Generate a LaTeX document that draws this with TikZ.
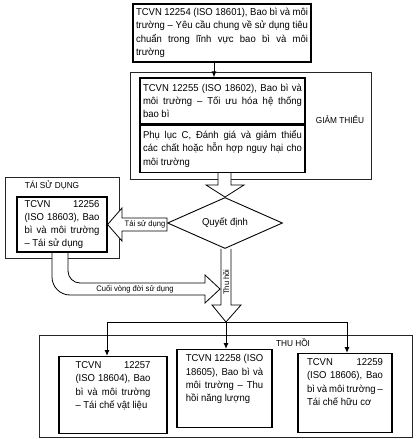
\documentclass[tikz,border=0pt]{standalone}
\usepackage{fontspec}
\setmainfont{Liberation Sans}[FakeStretch=0.95]
\usetikzlibrary{shapes.geometric,arrows.meta}
\hyphenpenalty=10000
\exhyphenpenalty=10000
\tolerance=10000
\hbadness=10000
\pgfdeclarelayer{back}
\pgfdeclarelayer{mid}
\pgfsetlayers{back,mid,main}
\tikzset{
  stdbox/.style={draw,line width=1.2pt,fill=white,align=justify,inner xsep=3pt,inner ysep=3pt,font=\fontsize{10}{13.3}\selectfont},
  group/.style={draw=black!85,line width=0.7pt,inner sep=0pt},
  grouplabel/.style={font=\fontsize{8.7}{10}\selectfont},
  hollow/.style={draw,line width=0.8pt,fill=white,line join=miter},
  arrowlabel/.style={font=\fontsize{8}{9}\selectfont,inner sep=1pt},
  >={Latex[length=6pt,width=5pt]}
}
\begin{document}
\begin{tikzpicture}[x=1pt,y=-1pt]
\useasboundingbox (0,0) rectangle (415,439);
\begin{pgfonlayer}{back}
\node[group,minimum width=241,minimum height=107] at (250.5,125.5) (gtgroup) {};
\node[group,minimum width=114,minimum height=81] at (62,217.5) (tsdgroup) {};
\node[group,minimum width=373,minimum height=102] at (225.5,386) (thgroup) {};
\end{pgfonlayer}
\node[grouplabel] at (340,120) (gtlabel) {GIẢM THIỂU};
\node[grouplabel] at (52,185) (tsdlabel) {TÁI SỬ DỤNG};
\node[grouplabel] at (293,343) (thlabel) {THU HỒI};
\node[stdbox,text width=172,minimum height=58] at (222,33) (top) {TCVN 12254 (ISO 18601), Bao bì và môi\linebreak trường – Yêu cầu chung về sử dụng tiêu\linebreak chuẩn trong lĩnh vực bao bì và môi\linebreak trường};
\node[stdbox,text width=159,minimum height=46] at (222.5,101) (gt1) {TCVN 12255 (ISO 18602), Bao bì và\linebreak môi trường – Tối ưu hóa hệ thống\linebreak bao bì};
\node[stdbox,text width=159,minimum height=47,anchor=north] at (gt1.south) (gt2) {Phụ lục C, Đánh giá và giảm thiểu\linebreak các chất hoặc hỗn hợp nguy hại cho\linebreak môi trường};
\node[stdbox,text width=75,minimum width=90,minimum height=55] at (62,224.5) (tsd) {TCVN 12256\linebreak (ISO 18603), Bao\linebreak bì và môi trường\linebreak – Tái sử dụng};
\node[draw,diamond,aspect=2.25,minimum width=115,minimum height=51,inner sep=0pt,line width=0.9pt,font=\fontsize{10}{12}\selectfont] at (225,223) (dec) {Quyết định};
\node[stdbox,text width=75,minimum width=108,inner ysep=5pt,anchor=north] at (113,356) (th1) {TCVN 12257\linebreak (ISO 18604), Bao\linebreak bì và môi trường\linebreak – Tái chế vật liệu\rule[-20pt]{0pt}{20pt}};
\node[stdbox,text width=77.5,minimum width=95,inner ysep=5pt,anchor=north] at (224.5,349) (th2) {TCVN 12258 (ISO\linebreak 18605), Bao bì và\linebreak môi trường – Thu\linebreak hồi năng lượng\rule[-21pt]{0pt}{21pt}};
\node[stdbox,text width=76,minimum width=94,inner ysep=5pt,anchor=north] at (345,353) (th3) {TCVN 12259\linebreak (ISO 18606), Bao\linebreak bì và môi trường –\linebreak Tái chế hữu cơ\rule[-22pt]{0pt}{22pt}};
\coordinate (split) at (226,322);
\begin{pgfonlayer}{mid}
\draw[hollow] ([xshift=-4.5pt]gt2.south) -- (218,185) -- (206,185) -- (dec.north) -- (244,185) -- (231,185) -- ([xshift=8.5pt]gt2.south);
\draw[hollow] (tsd.east) -- (122,208) -- (122,218) -- (dec.west |- 0,218) -- (dec.west |- 0,231) -- (122,231) -- (122,241) -- cycle;
\draw[hollow] ([xshift=-4pt]dec.south) -- (221,305) -- (212,305) -- (split) -- (241,305) -- (231,305) -- ([xshift=6pt]dec.south);
\draw[hollow] ([xshift=-10pt]tsd.south) -- (52,277) .. controls (52,286.9) and (60.1,295) .. (70,295) -- (205,295) -- (205,303) -- (220,289) -- (205,275) -- (205,283) -- (80,283) .. controls (73.4,283) and (68,277.6) .. (68,271) -- ([xshift=6pt]tsd.south);
\end{pgfonlayer}
\node[arrowlabel] at (145,224.5) (tsdarrow) {Tái sử dụng};
\node[arrowlabel,rotate=90] at (226,282) (tharrow) {Thu hồi};
\node[arrowlabel] at (135,289) (endlife) {Cuối vòng đời sử dụng};
\draw[->,line width=1pt] ([xshift=-8pt]top.south) -- ([xshift=-8pt]top.south |- gt1.north);
\draw[->,line width=1pt] (split) -| ([xshift=-6pt]th1.north);
\draw[->,line width=1pt] (split) -- (split |- th2.north);
\draw[->,line width=1pt] (split) -| ([xshift=2pt]th3.north);
\end{tikzpicture}
\end{document}
